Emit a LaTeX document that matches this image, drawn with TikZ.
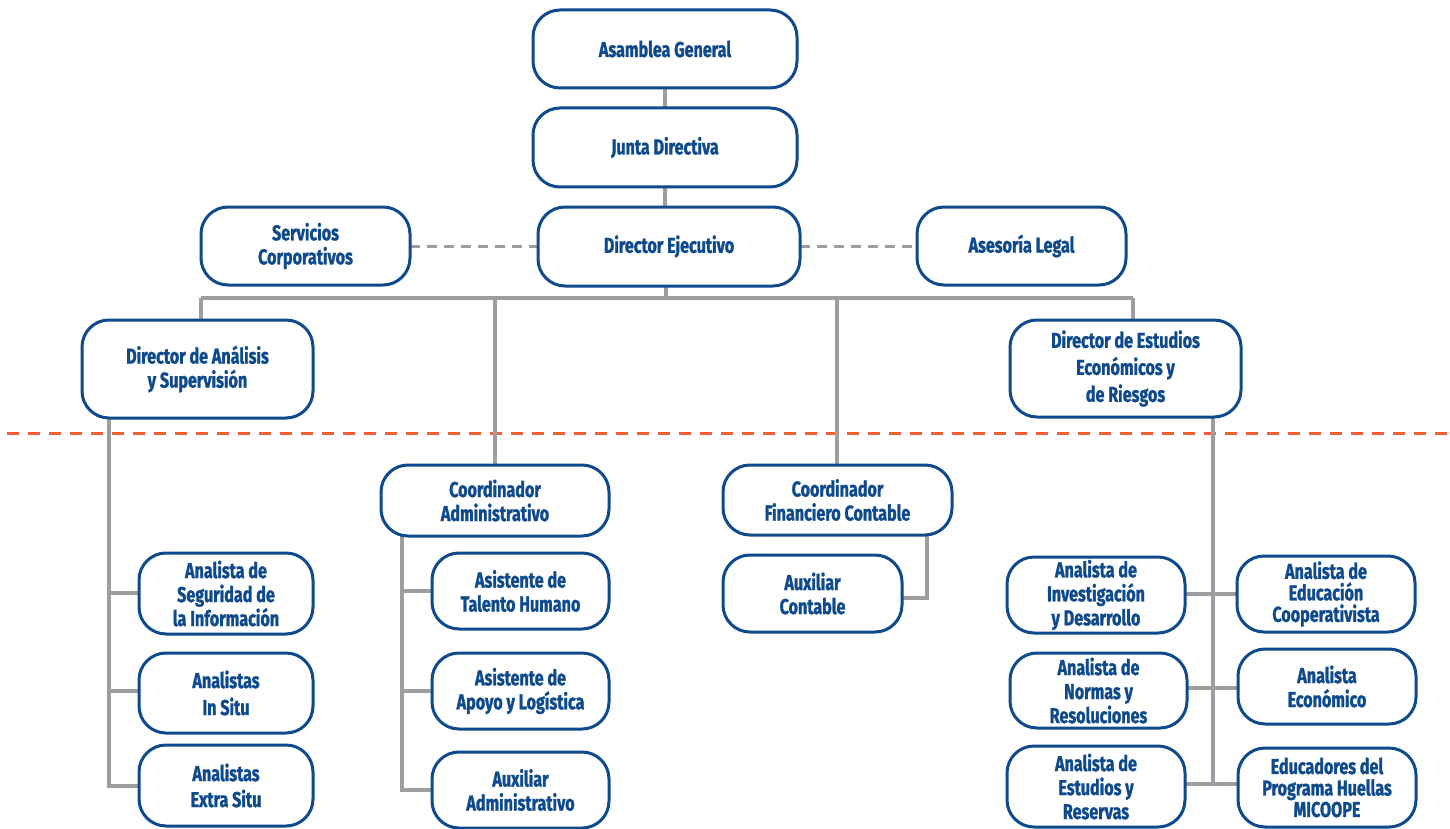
\documentclass[tikz,border=0pt]{standalone}
\usepackage{fontspec}
\setmainfont{Fira Sans}[FakeStretch=0.75, BoldFeatures={FakeBold=1.3}]
\definecolor{nb}{RGB}{14,74,140}
\definecolor{lg}{RGB}{158,158,160}
\definecolor{og}{RGB}{242,96,52}
\tikzset{
  box/.style={draw=nb, line width=3pt, rounded corners=27pt, fill=white, text=nb,
    font=\fontsize{21.5}{24}\selectfont\bfseries, align=center, inner sep=0pt},
  conn/.style={draw=lg, line width=3.2pt},
  dconn/.style={draw=lg, line width=3pt, dash pattern=on 10pt off 7pt},
  sep/.style={draw=og, line width=3pt, dash pattern=on 12pt off 9pt}
}
\begin{document}
\begin{tikzpicture}[x=1pt,y=-1pt]
\useasboundingbox (0,0) rectangle (1450,829);
% separator
\draw[sep] (7,433) -- (1450,433);
% coordinates for connectors
\coordinate (bus) at (666,298);
\coordinate (busL) at (201,298);
\coordinate (busR) at (1133,298);
\coordinate (busA) at (495,298);
\coordinate (busF) at (837,298);
\coordinate (lv) at (109,417);
\coordinate (av) at (402,536);
\coordinate (fv) at (927,535);
\coordinate (rv) at (1213,417);
% connectors (drawn first, boxes on top)
\draw[conn] (665,88) -- (665,108);
\draw[conn] (665,187) -- (665,207);
\draw[conn] (666,286) -- (bus);
\draw[conn] (busL) -- (busR);
\draw[conn] (busL) -- (201,320);
\draw[conn] (busA) -- (495,465);
\draw[conn] (busF) -- (837,465);
\draw[conn] (busR) -- (1133,320);
\draw[dconn] (410,246) -- (538,246);
\draw[dconn] (800,246) -- (917,246);
% left column
\draw[conn] (lv) -- (109,786) -- (139,786);
\draw[conn] (109,593) -- (139,593);
\draw[conn] (109,691) -- (139,691);
% admin column
\draw[conn] (av) -- (402,790) -- (432,790);
\draw[conn] (402,591) -- (432,591);
\draw[conn] (402,691) -- (432,691);
% finance
\draw[conn] (fv) -- (927,598) -- (902,598);
% right column
\draw[conn] (rv) -- (1213,784);
\draw[conn] (1185,594) -- (1237,594);
\draw[conn] (1187,688) -- (1238,688);
\draw[conn] (1185,784) -- (1238,784);
% boxes
\node[box, minimum width=264pt, minimum height=78pt] (ag) at (665,49) {Asamblea General};
\node[box, minimum width=264pt, minimum height=79pt] (jd) at (665,147.5) {Junta Directiva};
\node[box, minimum width=262pt, minimum height=79pt] (de) at (669,246.5) {Director Ejecutivo};
\node[box, minimum width=209pt, minimum height=78pt] (sc) at (305.5,246) {Servicios\\Corporativos};
\node[box, minimum width=209pt, minimum height=78pt] (al) at (1021.5,246) {Asesoría Legal};
\node[box, minimum width=231pt, minimum height=98pt] (da) at (197.5,369) {Director de Análisis\\y Supervisión};
\node[box, minimum width=231pt, minimum height=97pt, font=\fontsize{21.5}{27}\selectfont\bfseries] (dee) at (1125.5,368.5) {Director de Estudios\\Económicos y\\de Riesgos};
\node[box, minimum width=228pt, minimum height=71pt] (ca) at (495,500.5) {Coordinador\\Administrativo};
\node[box, minimum width=229pt, minimum height=70pt] (cf) at (837.5,500) {Coordinador\\Financiero Contable};
\node[box, minimum width=179pt, minimum height=77pt] (ac) at (812.5,593.5) {Auxiliar\\Contable};
\node[box, minimum width=174pt, minimum height=81pt] (l1) at (226,593.5) {Analista de\\Seguridad de\\la Información};
\node[box, minimum width=174pt, minimum height=80pt, font=\fontsize{21.5}{27}\selectfont\bfseries] (l2) at (226,693) {Analistas\\In Situ};
\node[box, minimum width=174pt, minimum height=81pt, font=\fontsize{21.5}{26}\selectfont\bfseries] (l3) at (226,785.5) {Analistas\\Extra Situ};
\node[box, minimum width=177pt, minimum height=76pt] (a1) at (520.5,591) {Asistente de\\Talento Humano};
\node[box, minimum width=177pt, minimum height=76pt] (a2) at (520.5,691) {Asistente de\\Apoyo y Logística};
\node[box, minimum width=177pt, minimum height=76pt] (a3) at (520.5,790) {Auxiliar\\Administrativo};
\node[box, minimum width=178pt, minimum height=76pt] (rl1) at (1096,595) {Analista de\\Investigación\\y Desarrollo};
\node[box, minimum width=177pt, minimum height=75pt] (rl2) at (1098.5,690.5) {Analista de\\Normas y\\Resoluciones};
\node[box, minimum width=178pt, minimum height=81pt] (rl3) at (1096,786.5) {Analista de\\Estudios y\\Reservas};
\node[box, minimum width=178pt, minimum height=76pt, font=\fontsize{21.5}{21.5}\selectfont\bfseries] (rr1) at (1326,594) {Analista de\\Educación\\Cooperativista};
\node[box, minimum width=178pt, minimum height=75pt] (rr2) at (1327,686.5) {Analista\\Económico};
\node[box, minimum width=178pt, minimum height=79pt, font=\fontsize{21.5}{21.5}\selectfont\bfseries] (rr3) at (1327,787.5) {Educadores del\\Programa Huellas\\MICOOPE};
\end{tikzpicture}
\end{document}
